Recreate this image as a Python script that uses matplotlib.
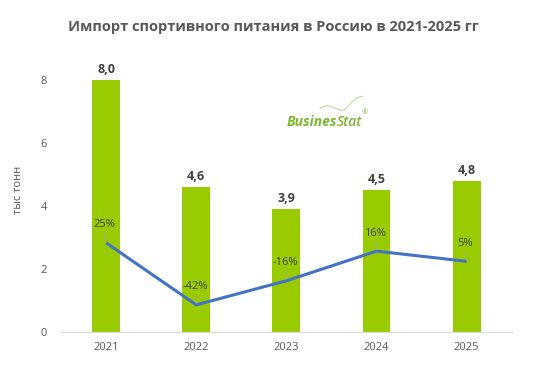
import matplotlib
matplotlib.use("Agg")
import matplotlib.pyplot as plt
import numpy as np

# data
years = ["2021", "2022", "2023", "2024", "2025"]
volume = [8.0, 4.6, 3.9, 4.5, 4.8]          # тыс тонн
growth = [25, -42, -16, 16, 5]              # % к прошлому году
y_ticks = [0, 2, 4, 6, 8]

plt.rcParams['font.family'] = ['Open Sans', 'DejaVu Sans']
grey = '#595959'

fig = plt.figure(figsize=(5.55, 3.75), dpi=100)
ax = fig.add_axes([0.11, 0.1147, 0.812, 0.756])
x = np.arange(len(years))

ax.bar(x, volume, width=0.31, color='#99cc00', zorder=2)
for xi, v in zip(x, volume):
    ax.annotate(f"{v:.1f}".replace('.', ','), (xi, v), xytext=(0, 3),
                textcoords='offset points', ha='center', va='bottom',
                fontsize=9, fontweight='bold', color='#404040')

ax.set_xlim(-0.5, len(years) - 0.5)
ax.set_ylim(0, 9)
ax.set_xticks(x)
ax.set_xticklabels(years)
ax.set_yticks(y_ticks)
ax.tick_params(axis='both', length=0, labelsize=8, colors=grey)
ax.tick_params(axis='y', pad=10)
ax.tick_params(axis='x', pad=7)
for s in ['top', 'right', 'left']:
    ax.spines[s].set_visible(False)
ax.spines['bottom'].set_color('#d9d9d9')
ax.set_ylabel('тыс тонн', fontsize=8, color=grey, labelpad=12)

# growth line on hidden secondary axis
ax2 = ax.twinx()
ax2.set_ylim(-71.3, 234.9)
ax2.axis('off')
ax2.plot(x, growth, color='#4472c4', lw=2.2, zorder=3, solid_capstyle='butt')
for xi, g in zip(x, growth):
    ax2.annotate(f"{g}%", (xi, g), xytext=(-1, 9), textcoords='offset points',
                 ha='center', va='bottom', fontsize=8, color='#404040',
                 arrowprops=dict(arrowstyle='-', color='#a6a6a6', lw=0.6,
                                 shrinkA=0, shrinkB=1))

fig.text(0.492, 0.928, 'Импорт спортивного питания в Россию в 2021-2025 гг',
         ha='center', va='center', fontsize=10.5, fontweight='bold', color=grey)

# BusinesStat logo
fig.text(0.607, 0.674, 'Busines', ha='right', va='center', fontsize=10,
         fontweight='bold', style='italic', color='#7cb82f')
fig.text(0.607, 0.674, 'Stat', ha='left', va='center', fontsize=10,
         fontweight='semibold', style='italic', color='#7cb82f')
fig.text(0.657, 0.700, '®', ha='center', va='center', fontsize=5, color='#7cb82f')
cx = np.linspace(0.577, 0.654, 30)
cy = 0.712 + 0.006 * np.sin((cx - 0.577) * 120) + np.clip(cx - 0.62, 0, None) * 0.9
fig.add_artist(plt.Line2D(cx, cy, transform=fig.transFigure, color='#b5d98a', lw=0.7))

fig.savefig('out.png', dpi=100)
